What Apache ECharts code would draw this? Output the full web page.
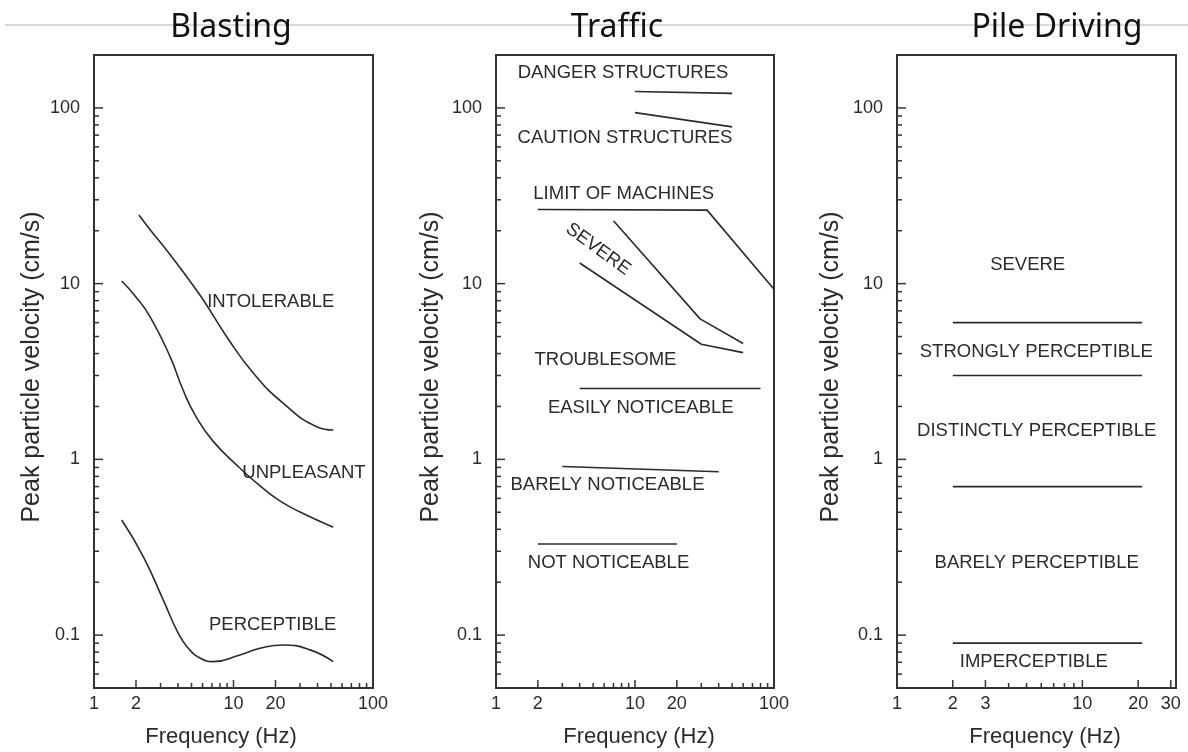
<!DOCTYPE html>
<html>
<head>
<meta charset="utf-8">
<script src="https://cdn.jsdelivr.net/npm/echarts@6/dist/echarts.min.js"></script>
<style>
  html, body { margin: 0; padding: 0; background: #fff; }
  #chart { width: 1188px; height: 752px; }
</style>
</head>
<body>
<div id="chart"></div>
<script>
// ---- Data: [frequency (Hz), peak particle velocity (cm/s)] ----

// Blasting: boundaries between response zones
const blastingIntolerable = [[2.1, 24.6], [2.6, 19.7], [3.32, 15.5], [4.62, 10.95], [6.08, 8.07], [8.94, 4.99],
  [13.9, 3.09], [22.8, 2.08], [39.5, 1.535], [51.9, 1.47]];
const blastingUnpleasant = [[1.58, 10.35], [1.97, 8.51], [2.52, 6.49], [3.51, 3.84], [4.35, 2.48], [5.3, 1.79],
  [7.13, 1.27], [11.1, 0.893], [15.5, 0.706], [21.5, 0.58], [30, 0.502], [51.9, 0.411]];
const blastingPerceptible = [[1.58, 0.452], [2.26, 0.279], [3.14, 0.158], [4.02, 0.1024], [4.72, 0.0845],
  [5.75, 0.0741], [7.16, 0.0706], [11.1, 0.0771], [15.5, 0.0842], [22.8, 0.0879], [35.4, 0.0824], [51.9, 0.0706]];

// Traffic: threshold lines
const trafficDanger = [[10, 124], [50, 121]];
const trafficCaution = [[10, 94], [50, 78]];
const trafficMachines = [[2, 26.4], [33, 26.2], [100, 9.3]];
const trafficSevereUpper = [[7, 22.8], [29.4, 6.3], [60, 4.56]];
const trafficSevereLower = [[4, 13.1], [30, 4.52], [60, 4.05]];
const trafficEasily = [[4, 2.53], [80, 2.53]];
const trafficBarely = [[3, 0.91], [40, 0.85]];
const trafficNot = [[2, 0.33], [20, 0.33]];

// Pile driving: horizontal thresholds spanning the same band of frequencies
const pileFreqSpan = [2, 21];
const pileThresholds = [6, 3, 0.7, 0.09];

// ---- Axis ticks and labels ----
const velocityRange = [0.05, 200];
const velocityTicks = [0.06, 0.07, 0.08, 0.09, 0.1, 0.2, 0.3, 0.4, 0.5, 0.6, 0.7, 0.8, 0.9,
  1, 2, 3, 4, 5, 6, 7, 8, 9, 10, 20, 30, 40, 50, 60, 70, 80, 90, 100];
const velocityMajor = [0.1, 1, 10, 100];
const velocityLabels = ['0.1', '1', '10', '100'];

const freqTicksWide = [2, 3, 4, 5, 6, 7, 8, 9, 10, 20, 30, 40, 50, 60, 70, 80, 90];
const freqMajorWide = [2, 10, 20];
const freqLabelsWide = ['1', '2', '10', '20', '100'];
const freqTicksPile = [2, 3, 4, 5, 6, 7, 8, 9, 10, 20, 30];
const freqMajorPile = [2, 3, 10, 20, 30];
const freqLabelsPile = ['1', '2', '3', '10', '20', '30'];

// ---- Zone labels, anchored in data coordinates ----
const blastingNotes = [
  { text: 'INTOLERABLE', at: [18.5, 7.9] },
  { text: 'UNPLEASANT', at: [32, 0.834] },
  { text: 'PERCEPTIBLE', at: [19.1, 0.114] }
];
const trafficNotes = [
  { text: 'DANGER STRUCTURES', at: [8.2, 159] },
  { text: 'CAUTION STRUCTURES', at: [8.47, 67.2] },
  { text: 'LIMIT OF MACHINES', at: [8.3, 32.2] },
  { text: 'SEVERE', at: [5.42, 15.7], angle: -36 },
  { text: 'TROUBLESOME', at: [6.13, 3.68] },
  { text: 'EASILY NOTICEABLE', at: [11.0, 1.95] },
  { text: 'BARELY NOTICEABLE', at: [6.34, 0.715] },
  { text: 'NOT NOTICEABLE', at: [6.45, 0.256] }
];
const pileNotes = [
  { text: 'SEVERE', at: [5.07, 12.8] },
  { text: 'STRONGLY PERCEPTIBLE', at: [5.64, 4.10] },
  { text: 'DISTINCTLY PERCEPTIBLE', at: [5.67, 1.45] },
  { text: 'BARELY PERCEPTIBLE', at: [5.67, 0.256] },
  { text: 'IMPERCEPTIBLE', at: [5.47, 0.0706] }
];

// ---- Styling ----
const INK = '#2b2b2b';
const LABEL_FONT = 'Liberation Sans';

const panels = [
  {
    title: 'Blasting', titleX: 231, xTitleX: 221, yTitleX: 32,
    grid: { left: 94, top: 55, width: 279, height: 633 },
    xRange: [1, 100], xTicks: freqTicksWide, xMajor: freqMajorWide, xLabels: freqLabelsWide,
    lines: [
      { data: blastingIntolerable, smooth: true },
      { data: blastingUnpleasant, smooth: true },
      { data: blastingPerceptible, smooth: true }
    ],
    notes: blastingNotes
  },
  {
    title: 'Traffic', titleX: 617, xTitleX: 639, yTitleX: 431,
    grid: { left: 496, top: 55, width: 278, height: 633 },
    xRange: [1, 100], xTicks: freqTicksWide, xMajor: freqMajorWide, xLabels: freqLabelsWide,
    lines: [trafficDanger, trafficCaution, trafficMachines, trafficSevereUpper,
      trafficSevereLower, trafficEasily, trafficBarely, trafficNot].map(d => ({ data: d, smooth: false })),
    notes: trafficNotes
  },
  {
    title: 'Pile Driving', titleX: 1057, xTitleX: 1045, yTitleX: 831,
    grid: { left: 897, top: 55, width: 279, height: 633 },
    xRange: [1, 32], xTicks: freqTicksPile, xMajor: freqMajorPile, xLabels: freqLabelsPile,
    lines: pileThresholds.map(v => ({ data: [[pileFreqSpan[0], v], [pileFreqSpan[1], v]], smooth: false })),
    notes: pileNotes
  }
];

const grids = [], xAxes = [], yAxes = [], series = [], graphics = [];

// Thin rule across the top, behind the panel titles
graphics.push({
  type: 'line', z: 1,
  shape: { x1: 5, y1: 25, x2: 1188, y2: 25 },
  style: { stroke: '#b4b4b4', lineWidth: 1 }
});

panels.forEach((p, i) => {
  grids.push(Object.assign({ show: true, borderColor: '#333', borderWidth: 2, backgroundColor: '#fff' }, p.grid));
  const hidden = { axisLine: { show: false }, axisTick: { show: false }, axisLabel: { show: false }, splitLine: { show: false } };
  xAxes.push(Object.assign({ gridIndex: i, type: 'log', logBase: 10, min: p.xRange[0], max: p.xRange[1] }, hidden));
  yAxes.push(Object.assign({ gridIndex: i, type: 'log', logBase: 10, min: velocityRange[0], max: velocityRange[1] }, hidden));

  // Curves and threshold lines
  p.lines.forEach(l => {
    series.push({
      type: 'line', xAxisIndex: i, yAxisIndex: i, data: l.data,
      symbol: 'none', smooth: l.smooth ? 0.5 : false,
      lineStyle: { color: INK, width: 1.6 }, silent: true, animation: false, z: 3
    });
  });

  // Frequency ticks, pointing into the plot
  series.push({
    type: 'custom', xAxisIndex: i, yAxisIndex: i, clip: false, silent: true, animation: false, z: 4,
    data: p.xTicks.map(v => [v, velocityRange[0]]),
    renderItem: (params, api) => {
      const v = api.value(0);
      const pt = api.coord([v, api.value(1)]);
      const len = p.xMajor.indexOf(v) >= 0 ? 8 : 5;
      return { type: 'line', shape: { x1: pt[0], y1: pt[1], x2: pt[0], y2: pt[1] - len },
        style: { stroke: '#333', lineWidth: 1.5 } };
    }
  });
  // Velocity ticks
  series.push({
    type: 'custom', xAxisIndex: i, yAxisIndex: i, clip: false, silent: true, animation: false, z: 4,
    data: velocityTicks.map(v => [p.xRange[0], v]),
    renderItem: (params, api) => {
      const v = api.value(1);
      const pt = api.coord([api.value(0), v]);
      const len = velocityMajor.indexOf(v) >= 0 ? 9 : 5;
      return { type: 'line', shape: { x1: pt[0], y1: pt[1], x2: pt[0] + len, y2: pt[1] },
        style: { stroke: '#333', lineWidth: 1.5 } };
    }
  });
  // Frequency tick labels
  series.push({
    type: 'custom', xAxisIndex: i, yAxisIndex: i, clip: false, silent: true, animation: false, z: 4,
    data: p.xLabels.map(t => [Number(t), velocityRange[0]]),
    renderItem: (params, api) => {
      const pt = api.coord([api.value(0), api.value(1)]);
      return { type: 'text', x: pt[0], y: pt[1] + 16,
        style: { text: p.xLabels[params.dataIndex], fill: INK, fontSize: 18, fontFamily: LABEL_FONT,
          align: 'center', verticalAlign: 'middle' } };
    }
  });
  // Velocity tick labels
  series.push({
    type: 'custom', xAxisIndex: i, yAxisIndex: i, clip: false, silent: true, animation: false, z: 4,
    data: velocityLabels.map(t => [p.xRange[0], Number(t)]),
    renderItem: (params, api) => {
      const pt = api.coord([api.value(0), api.value(1)]);
      return { type: 'text', x: pt[0] - 14, y: pt[1],
        style: { text: velocityLabels[params.dataIndex], fill: INK, fontSize: 18, fontFamily: LABEL_FONT,
          align: 'right', verticalAlign: 'middle' } };
    }
  });
  // Zone labels
  series.push({
    type: 'custom', xAxisIndex: i, yAxisIndex: i, clip: false, silent: true, animation: false, z: 5,
    data: p.notes.map(n => n.at),
    renderItem: (params, api) => {
      const note = p.notes[params.dataIndex];
      const pt = api.coord([api.value(0), api.value(1)]);
      return { type: 'text', x: pt[0], y: pt[1], rotation: (note.angle || 0) * Math.PI / 180,
        style: { text: note.text, fill: INK, fontSize: 18.5, fontFamily: LABEL_FONT,
          align: 'center', verticalAlign: 'middle' } };
    }
  });

  // Panel title and axis names
  graphics.push({
    type: 'text', z: 5, x: p.titleX, y: 28,
    style: { text: p.title, fill: '#111', fontSize: 32, fontFamily: 'Noto Sans',
      align: 'center', verticalAlign: 'middle' }
  });
  graphics.push({
    type: 'text', z: 5, x: p.xTitleX, y: 737,
    style: { text: 'Frequency (Hz)', fill: INK, fontSize: 22, fontFamily: LABEL_FONT,
      align: 'center', verticalAlign: 'middle' }
  });
  graphics.push({
    type: 'text', z: 5, x: p.yTitleX, y: 367, rotation: Math.PI / 2,
    style: { text: 'Peak particle velocity (cm/s)', fill: INK, fontSize: 25, fontFamily: LABEL_FONT,
      align: 'center', verticalAlign: 'middle' }
  });
});

const chart = echarts.init(document.getElementById('chart'), null, { renderer: 'canvas' });
chart.setOption({
  backgroundColor: '#fff',
  animation: false,
  grid: grids,
  xAxis: xAxes,
  yAxis: yAxes,
  series: series,
  graphic: graphics
});
</script>
</body>
</html>
